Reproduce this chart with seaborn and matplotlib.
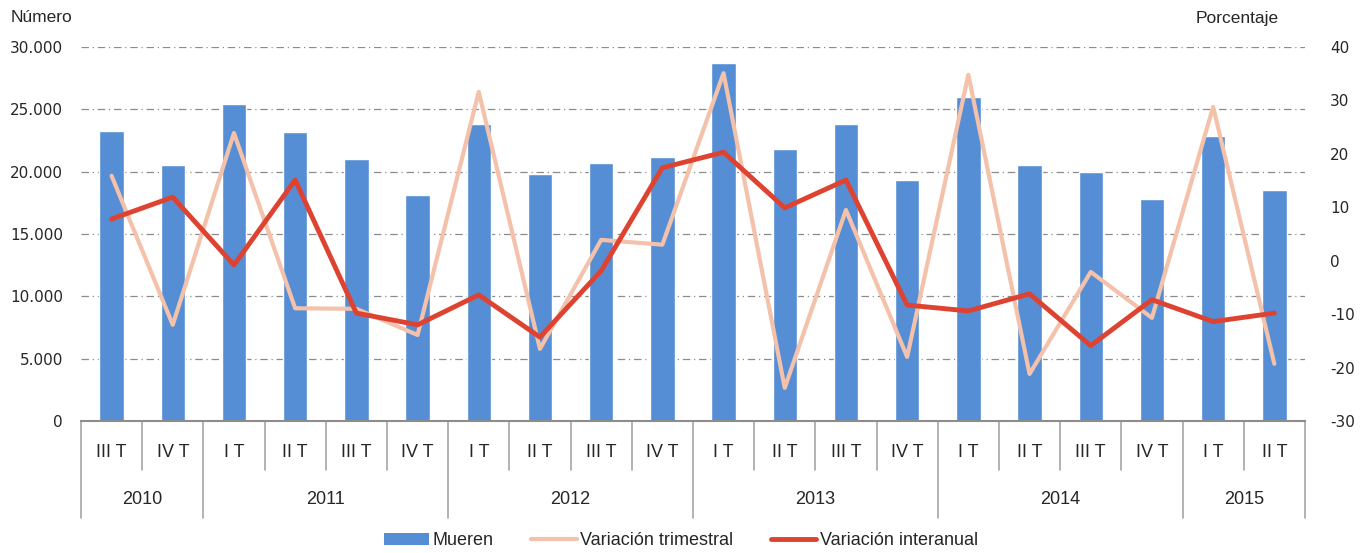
import matplotlib
matplotlib.use("Agg")
import matplotlib.pyplot as plt
import matplotlib.transforms as mtransforms
from matplotlib.patches import Patch
from matplotlib.lines import Line2D
import numpy as np
import pandas as pd
import seaborn as sns

# datos
trimestres = ["III T", "IV T",
              "I T", "II T", "III T", "IV T",
              "I T", "II T", "III T", "IV T",
              "I T", "II T", "III T", "IV T",
              "I T", "II T", "III T", "IV T",
              "I T", "II T"]
anios = ["2010", "2011", "2012", "2013", "2014", "2015"]
trim_por_anio = [2, 4, 4, 4, 4, 2]

mueren = [23300, 20500, 25400, 23200, 21000, 18100, 23800, 19800, 20700, 21200,
          28700, 21800, 23800, 19300, 26000, 20500, 20000, 17800, 22900, 18500]
var_trimestral = [15.9, -12.0, 23.9, -8.9, -9.0, -13.9, 31.6, -16.5, 3.9, 3.0,
                  35.1, -23.8, 9.5, -18.0, 34.8, -21.2, -2.1, -10.7, 28.8, -19.3]
var_interanual = [7.8, 11.9, -0.8, 15.1, -9.8, -12.0, -6.4, -14.3, -1.9, 17.4,
                  20.3, 9.9, 15.1, -8.3, -9.4, -6.2, -15.9, -7.3, -11.4, -9.8]

c_bar = "#558ED5"
c_trim = "#F4C1AB"
c_inter = "#DE4331"

sns.set_style("white")
plt.rcParams['font.family'] = ['Liberation Sans', 'DejaVu Sans']
tick_font = ['DejaVu Sans']

df = pd.DataFrame({"pos": np.arange(len(mueren)), "mueren": mueren,
                   "trim": var_trimestral, "inter": var_interanual})

fig = plt.figure(figsize=(13.63, 5.53), dpi=100)
ax = fig.add_axes([0.0594, 0.2387, 0.898, 0.6763])

sns.barplot(data=df, x="pos", y="mueren", color=c_bar, saturation=1,
            width=0.4, ax=ax, zorder=2)
ax.set_xlim(-0.5, len(mueren) - 0.5)
ax.set_ylim(0, 30000)
ax.set_yticks(np.arange(0, 30001, 5000))
ax.set_yticklabels([f"{v:,}".replace(",", ".") for v in range(0, 30001, 5000)],
                   fontsize=11, family=tick_font)
ax.yaxis.grid(True, color="#8c8c8c", linestyle=(0, (6, 3, 1, 3)), linewidth=0.9)
ax.set_axisbelow(True)
ax.set_xlabel("")
ax.set_ylabel("")
ax.set_xticks([])
ax.tick_params(axis="y", length=0, pad=13)
for s in ["top", "left", "right"]:
    ax.spines[s].set_visible(False)
ax.spines["bottom"].set_color("#8c8c8c")
ax.spines["bottom"].set_linewidth(1.5)

ax2 = ax.twinx()
sns.lineplot(data=df, x="pos", y="trim", color=c_trim, linewidth=3.0, ax=ax2)
sns.lineplot(data=df, x="pos", y="inter", color=c_inter, linewidth=3.5, ax=ax2)
ax2.set_ylim(-30, 40)
ax2.set_yticks(np.arange(-30, 41, 10))
ax2.set_yticklabels([str(v) for v in range(-30, 41, 10)], fontsize=11,
                    family=tick_font)
ax2.tick_params(axis="y", length=0, pad=18)
ax2.set_ylabel("")
ax2.set_xlabel("")
for s in ["top", "left", "right", "bottom"]:
    ax2.spines[s].set_visible(False)

# eje x jerarquico
trans = mtransforms.blended_transform_factory(ax.transData, ax.transAxes)
for i, t in enumerate(trimestres):
    ax.text(i, -0.083, t, transform=trans, ha="center", va="center",
            fontsize=13)
bordes = np.cumsum([0] + trim_por_anio) - 0.5
for i in range(len(trimestres) + 1):
    b = i - 0.5
    y1 = -0.259 if b in bordes else -0.131
    ax.plot([b, b], [0, y1], transform=trans, color="#a6a6a6", lw=1.2,
            clip_on=False)
for k, a in enumerate(anios):
    centro = (bordes[k] + bordes[k + 1]) / 2
    ax.text(centro, -0.211, a, transform=trans, ha="center", va="center",
            fontsize=13)

fig.text(0.008, 0.968, "Número", fontsize=12.5, ha="left", va="center")
fig.text(0.877, 0.966, "Porcentaje", fontsize=12.5, ha="left", va="center")

handles = [Patch(facecolor=c_bar, edgecolor="none"),
           Line2D([], [], color=c_trim, lw=3.0),
           Line2D([], [], color=c_inter, lw=3.5)]
leg = fig.legend(handles, ["Mueren", "Variación trimestral", "Variación interanual"],
                 loc="center", bbox_to_anchor=(0.4996, 0.022), ncol=3, frameon=False,
                 prop={"size": 13}, handlelength=2.5,
                 columnspacing=2.1, handletextpad=0.2)

fig.savefig("out.png", dpi=100)
